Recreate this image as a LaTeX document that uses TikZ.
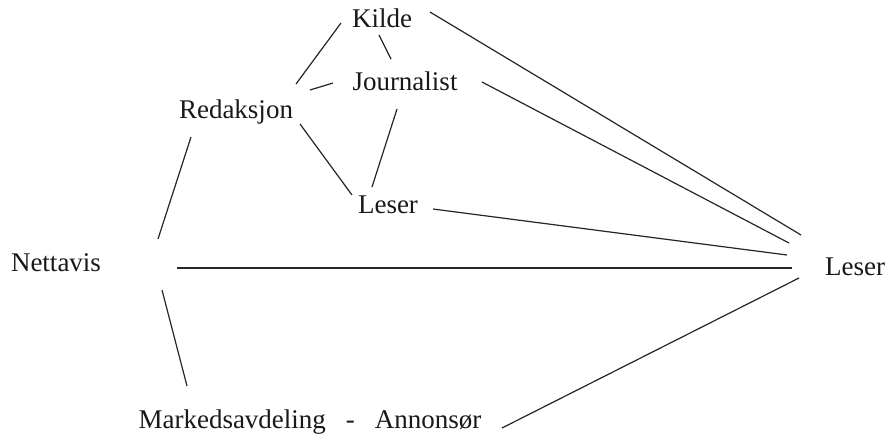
\documentclass[tikz,border=0pt]{standalone}
\usepackage{fontspec}
\setmainfont{Liberation Serif}
\begin{document}
\begin{tikzpicture}[x=1pt,y=-1pt,
  lbl/.style={inner sep=0pt, anchor=base, font=\fontsize{27}{32}\selectfont, text=black!90},
  link/.style={line width=1.2pt, draw=black!85}]
% canvas
\fill[white] (0,0) rectangle (887,440);
\useasboundingbox (0,0) rectangle (887,440);

% labels, placed on their baselines
\node[lbl] (kilde)   at (382,27)  {Kilde};
\node[lbl] (journ)   at (405,90)  {Journalist};
\node[lbl] (redak)   at (236,118) {Redaksjon};
\node[lbl] (lesermid) at (388,213) {Leser};
\node[lbl] (nett)    at (56,271)  {Nettavis};
\node[lbl] (leser)   at (855,275) {Leser};
\node[lbl] (marked)  at (310,428) {Markedsavdeling\hspace{20pt}-\hspace{20pt}Annonsør};

% connectors inside the newsroom cluster
\draw[link] ([shift={(-41,-4)}]kilde.base) -- ([shift={(60,-34)}]redak.base);
\draw[link] ([shift={(-3,8)}]kilde.base) -- ([shift={(-14,-31)}]journ.base);
\draw[link] ([shift={(74,-28)}]redak.base) -- ([shift={(-72,-7)}]journ.base);
\draw[link] ([shift={(-8,19)}]journ.base) -- ([shift={(-16,-26)}]lesermid.base);
\draw[link] ([shift={(64,6)}]redak.base) -- ([shift={(-36,-18)}]lesermid.base);

% Nettavis branches
\draw[link] ([shift={(-45,19)}]redak.base) -- ([shift={(102,-32)}]nett.base);
\draw[link] ([shift={(106,19)}]nett.base) -- ([shift={(-123,-42)}]marked.base);
\draw[link] ([shift={(121,-3)}]nett.base) -- ([shift={(-63,-7)}]leser.base);

% fan of lines into the reader
\draw[link] ([shift={(48,-15)}]kilde.base) -- ([shift={(-54,-40)}]leser.base);
\draw[link] ([shift={(77,-8)}]journ.base) -- ([shift={(-66,-32)}]leser.base);
\draw[link] ([shift={(45,-4)}]lesermid.base) -- ([shift={(-68,-20)}]leser.base);
\draw[link] ([shift={(192,0)}]marked.base) -- ([shift={(-56,3)}]leser.base);
\end{tikzpicture}
\end{document}
